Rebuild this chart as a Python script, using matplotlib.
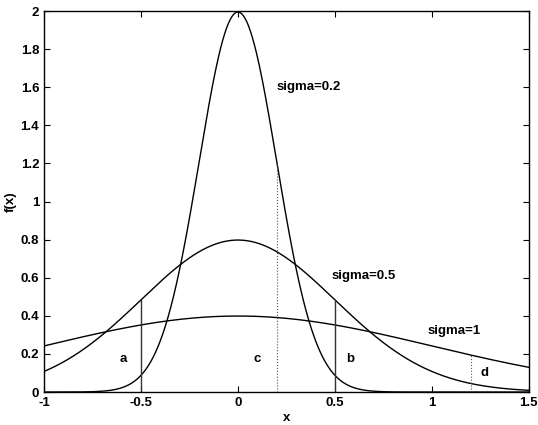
import numpy as np
import matplotlib.pyplot as plt

plt.rcParams['font.family'] = ['Liberation Sans', 'DejaVu Sans']
plt.rcParams['font.weight'] = 'bold'
plt.rcParams['axes.labelweight'] = 'bold'
plt.rcParams['font.size'] = 9.5

# normal densities with mean 0
sigmas = [0.2, 0.5, 1.0]
curve_labels = ['sigma=0.2', 'sigma=0.5', 'sigma=1']
label_pos = [(0.2, 1.6), (0.48, 0.61), (0.98, 0.32)]

# vertical markers: x position and sigma of the curve they reach
solid_x = [-0.5, 0.5]
solid_sigma = 0.5
dotted_x = [0.2, 1.2]
dotted_sigma = [0.2, 1.0]

area_labels = ['a', 'c', 'b', 'd']
area_pos = [(-0.59, 0.173), (0.10, 0.173), (0.58, 0.173), (1.27, 0.1)]


def pdf(x, s):
    return np.exp(-x**2 / (2 * s**2)) / (s * np.sqrt(2 * np.pi))


fig = plt.figure(figsize=(5.38, 4.25), dpi=100)
ax = fig.add_axes([0.0818, 0.0776, 0.9012, 0.8964])

x = np.linspace(-1, 1.5, 1000)
for s in sigmas:
    ax.plot(x, pdf(x, s), color='black', lw=1.0)

for xv in solid_x:
    ax.plot([xv, xv], [0, pdf(xv, solid_sigma)], color='#333333', lw=1.0)
for xv, s in zip(dotted_x, dotted_sigma):
    ax.plot([xv, xv], [0, pdf(xv, s)], color='#555555', lw=0.8, ls=':')

for lab, (tx, ty) in zip(curve_labels, label_pos):
    ax.text(tx, ty, lab, ha='left', va='center')
for lab, (tx, ty) in zip(area_labels, area_pos):
    ax.text(tx, ty, lab, ha='center', va='center')

ax.set_xlim(-1, 1.5)
ax.set_ylim(0, 2)
ax.set_xticks([-1, -0.5, 0, 0.5, 1, 1.5])
ax.set_xticklabels(['-1', '-0.5', '0', '0.5', '1', '1.5'])
ax.set_yticks(np.arange(0, 2.01, 0.2))
ax.set_yticklabels(['0', '0.2', '0.4', '0.6', '0.8', '1', '1.2', '1.4', '1.6', '1.8', '2'])
ax.tick_params(direction='in', top=True, right=True, length=4, width=0.8)
for sp in ax.spines.values():
    sp.set_linewidth(1.0)
ax.set_xlabel('x', labelpad=2)
ax.set_ylabel('f(x)', labelpad=3)

fig.savefig('out.png', dpi=100)
